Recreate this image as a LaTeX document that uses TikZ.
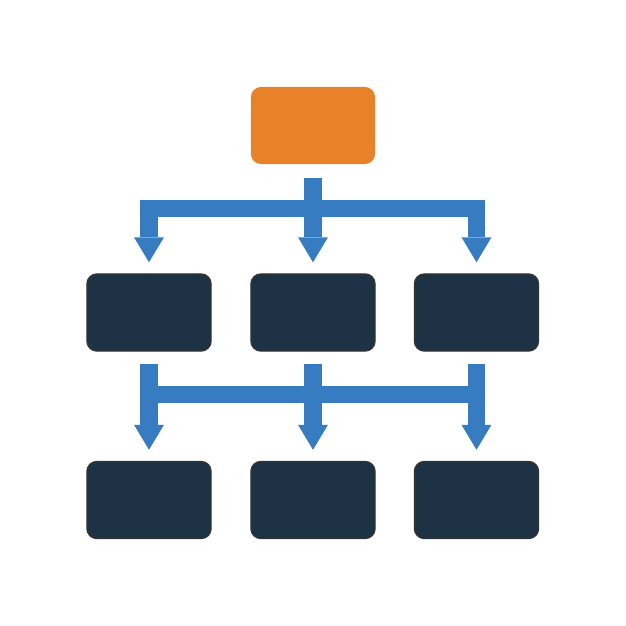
\documentclass[tikz,border=0pt]{standalone}
\usepackage{tikz}
\usetikzlibrary{positioning}
\usetikzlibrary{arrows.meta}
\usetikzlibrary{calc}

\definecolor{boxorange}{HTML}{E8822A}
\definecolor{boxnavy}{HTML}{1D3345}
\definecolor{arrowblue}{HTML}{377BC0}

\tikzset{
  unit/.style={rounded corners=0.1cm, minimum width=1.24cm, minimum height=0.77cm, inner sep=0pt},
  head/.style={unit, fill=boxorange},
  member/.style={unit, fill=boxnavy, draw=black!80, line width=0.4pt},
  link/.style={draw=arrowblue, line width=0.175cm},
  linkto/.style={link, -{Triangle[width=0.3cm,length=0.25cm,line width=0pt]}}
}

\begin{document}
\begin{tikzpicture}[x=0.01cm, y=-0.01cm]

  \useasboundingbox (0,0) rectangle (626,626);

	%draw boxes
 \def\ym{312.5};
 \def\yb{500};

    \node[head] (top) at (313,125.5) {};

    \foreach \x/\name in {149/m1, 313/m2, 476.5/m3}{
           \node[member] (\name) at (\x, \ym) {};
    }

    \foreach \x/\name in {149/b1, 313/b2, 476.5/b3}{
           \node[member] (\name) at (\x, \yb) {};
    }

%first level
    \coordinate (split) at ($(top.south)+(0,44)$);
    \draw[linkto] ($(top.south)+(0,13)$) -- ($(m2.north)+(0,-11)$);
    \draw[linkto] (split) -| ($(m1.north)+(0,-11)$);
    \draw[linkto] (split) -| ($(m3.north)+(0,-11)$);

%second level
    \foreach \up/\down in {m1/b1, m2/b2, m3/b3}{
         \draw[linkto] ($(\up.south)+(0,12)$) -- ($(\down.north)+(0,-11)$);
    }
    \draw[link] ($(m1.south)+(0,43)$) -- ($(m3.south)+(0,43)$);

\end{tikzpicture}
\end{document}
